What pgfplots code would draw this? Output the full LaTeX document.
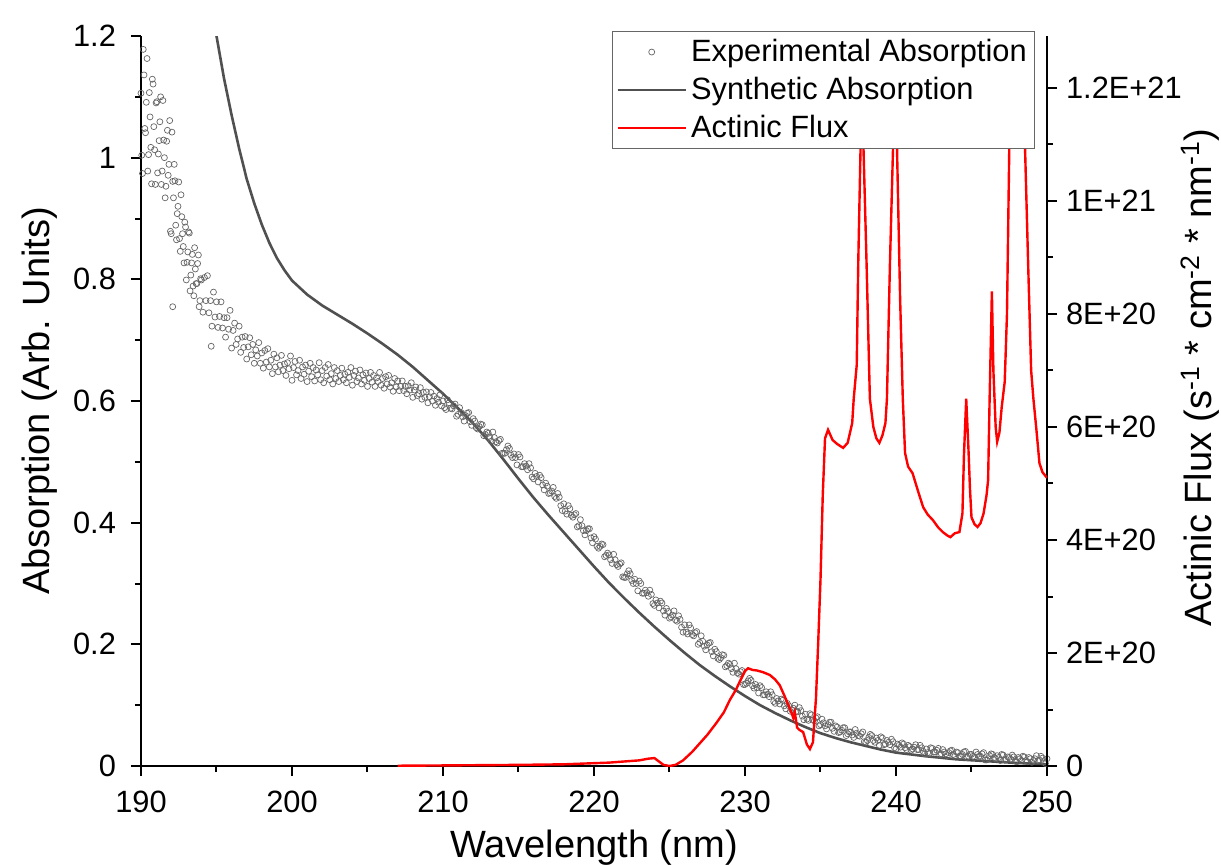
\documentclass[border=0pt]{standalone}
\usepackage{fontspec}
\setmainfont{Liberation Sans}
\usepackage{pgfplots}
\usepackage{pgfplotstable}
\pgfplotsset{compat=1.18}

\pgfplotstableread{
x y
190.0 1.106
190.05 1.004
190.1 0.974
190.15 1.178
190.2 1.136
190.25 1.048
190.3 1.041
190.35 1.091
190.4 1.163
190.45 0.978
190.5 1.005
190.55 1.107
190.6 1.067
190.65 1.017
190.7 0.957
190.75 1.129
190.8 1.121
190.85 1.051
190.9 1.013
190.95 0.956
191.0 1.090
191.05 1.092
191.1 0.975
191.15 1.006
191.2 1.028
191.25 1.059
191.3 1.100
191.35 0.956
191.4 0.978
191.45 1.094
191.5 1.029
191.55 1.000
191.6 0.934
191.65 0.953
191.7 1.027
191.75 1.045
191.8 0.971
191.85 0.989
191.9 1.061
191.95 0.879
192.0 0.875
192.05 1.042
192.1 0.961
192.1 0.755
192.15 0.934
192.2 0.989
192.25 0.962
192.3 0.889
192.35 0.865
192.4 0.908
192.45 0.920
192.5 0.960
192.55 0.867
192.6 0.846
192.65 0.939
192.7 0.903
192.75 0.875
192.8 0.854
192.85 0.827
192.9 0.894
192.95 0.886
193.0 0.799
193.05 0.828
193.1 0.845
193.15 0.878
193.2 0.876
193.25 0.781
193.3 0.807
193.35 0.827
193.4 0.841
193.45 0.789
193.5 0.773
193.55 0.852
193.6 0.817
193.65 0.793
193.7 0.793
193.75 0.826
193.8 0.840
193.85 0.755
193.9 0.765
193.95 0.801
194.0 0.799
194.1 0.746
194.2 0.803
194.3 0.765
194.4 0.806
194.5 0.745
194.6 0.765
194.65 0.690
194.7 0.723
194.8 0.779
194.9 0.738
195.0 0.763
195.1 0.721
195.2 0.739
195.3 0.763
195.4 0.720
195.5 0.737
195.6 0.705
195.7 0.737
195.8 0.718
195.9 0.749
196.0 0.687
196.1 0.716
196.2 0.728
196.3 0.693
196.4 0.702
196.5 0.723
196.6 0.680
196.7 0.705
196.8 0.688
196.9 0.706
197.0 0.669
197.1 0.689
197.2 0.704
197.3 0.676
197.4 0.693
197.5 0.662
197.6 0.684
197.7 0.674
197.8 0.696
197.9 0.662
198.0 0.679
198.1 0.654
198.2 0.683
198.3 0.664
198.4 0.686
198.5 0.656
198.6 0.667
198.7 0.645
198.8 0.677
198.9 0.656
199.0 0.671
199.1 0.648
199.2 0.659
199.3 0.675
199.4 0.650
199.5 0.661
199.6 0.642
199.7 0.663
199.8 0.653
199.9 0.674
200.0 0.634
200.1 0.655
200.2 0.665
200.3 0.643
200.4 0.650
200.5 0.667
200.6 0.637
200.7 0.656
200.8 0.644
200.9 0.659
201.0 0.632
201.1 0.649
201.2 0.662
201.3 0.640
201.4 0.655
201.5 0.633
201.6 0.651
201.7 0.643
201.8 0.663
201.9 0.635
202.0 0.650
202.1 0.630
202.2 0.655
202.3 0.641
202.4 0.660
202.5 0.635
202.6 0.645
202.7 0.628
202.8 0.655
202.9 0.637
203.0 0.650
203.1 0.632
203.2 0.642
203.3 0.654
203.4 0.635
203.5 0.644
203.6 0.630
203.7 0.647
203.8 0.639
203.9 0.655
204.0 0.626
204.1 0.642
204.2 0.649
204.3 0.632
204.4 0.638
204.5 0.651
204.6 0.628
204.7 0.643
204.8 0.634
204.9 0.646
205.0 0.624
205.1 0.637
205.2 0.647
205.3 0.631
205.4 0.642
205.5 0.624
205.6 0.638
205.7 0.632
205.8 0.647
205.9 0.626
206.0 0.637
206.1 0.621
206.2 0.640
206.3 0.628
206.4 0.642
206.5 0.623
206.6 0.630
206.7 0.616
206.8 0.637
206.9 0.623
207.0 0.633
207.1 0.617
207.2 0.624
207.3 0.633
207.4 0.617
207.5 0.624
207.6 0.612
207.7 0.625
207.8 0.618
207.9 0.630
208.0 0.606
208.1 0.618
208.2 0.623
208.3 0.609
208.4 0.612
208.5 0.622
208.6 0.603
208.7 0.614
208.8 0.606
208.9 0.615
209.0 0.597
209.1 0.607
209.2 0.614
209.3 0.600
209.4 0.608
209.5 0.593
209.6 0.604
209.7 0.598
209.8 0.610
209.9 0.592
210.0 0.600
210.1 0.589
210.2 0.586
210.3 0.602
210.4 0.597
210.5 0.588
210.6 0.587
210.7 0.592
210.8 0.595
210.9 0.575
211.0 0.578
211.1 0.589
211.2 0.581
211.3 0.574
211.4 0.567
211.5 0.576
211.6 0.580
211.7 0.581
211.8 0.566
211.9 0.560
212.0 0.571
212.1 0.567
212.2 0.556
212.3 0.554
212.4 0.558
212.5 0.562
212.6 0.561
212.7 0.543
212.8 0.545
212.9 0.549
213.0 0.547
213.1 0.540
213.2 0.534
213.3 0.549
213.4 0.540
213.5 0.533
213.6 0.531
213.7 0.535
213.8 0.537
213.9 0.514
214.0 0.514
214.1 0.514
214.2 0.520
214.3 0.526
214.4 0.522
214.5 0.511
214.6 0.507
214.7 0.513
214.8 0.507
214.9 0.495
215.0 0.512
215.1 0.508
215.2 0.492
215.3 0.492
215.4 0.497
215.5 0.493
215.6 0.487
215.7 0.497
215.8 0.490
215.9 0.475
216.0 0.472
216.1 0.481
216.2 0.476
216.3 0.467
216.4 0.478
216.5 0.474
216.6 0.462
216.7 0.454
216.8 0.465
216.9 0.460
217.0 0.448
217.1 0.449
217.2 0.452
217.3 0.458
217.4 0.443
217.5 0.440
217.6 0.448
217.7 0.442
217.8 0.428
217.9 0.420
218.0 0.431
218.1 0.419
218.2 0.414
218.3 0.428
218.4 0.423
218.5 0.412
218.6 0.409
218.7 0.413
218.8 0.415
218.9 0.393
219.0 0.395
219.1 0.405
219.2 0.395
219.3 0.387
219.4 0.380
219.5 0.387
219.6 0.390
219.7 0.390
219.8 0.375
219.9 0.367
220.0 0.377
220.1 0.373
220.2 0.361
220.3 0.358
220.4 0.361
220.5 0.365
220.6 0.364
220.7 0.344
220.8 0.346
220.9 0.350
221.0 0.347
221.1 0.339
221.2 0.333
221.3 0.348
221.4 0.339
221.5 0.331
221.6 0.328
221.7 0.332
221.8 0.334
221.9 0.311
222.0 0.310
222.1 0.310
222.2 0.316
222.3 0.321
222.4 0.316
222.5 0.305
222.6 0.300
222.7 0.307
222.8 0.300
222.9 0.288
223.0 0.304
223.1 0.300
223.2 0.284
223.3 0.284
223.4 0.289
223.5 0.285
223.6 0.279
223.7 0.289
223.8 0.282
223.9 0.267
224.0 0.264
224.1 0.273
224.2 0.268
224.3 0.260
224.4 0.271
224.5 0.268
224.6 0.255
224.7 0.248
224.8 0.259
224.9 0.254
225.0 0.243
225.1 0.245
225.2 0.248
225.3 0.255
225.4 0.240
225.5 0.238
225.6 0.247
225.7 0.241
225.8 0.228
225.9 0.220
226.0 0.232
226.1 0.220
226.2 0.217
226.3 0.232
226.4 0.227
226.5 0.216
226.6 0.214
226.7 0.219
226.8 0.221
226.9 0.200
227.0 0.203
227.1 0.214
227.2 0.205
227.3 0.197
227.4 0.191
227.5 0.199
227.6 0.202
227.7 0.203
227.8 0.188
227.9 0.181
228.0 0.192
228.1 0.188
228.2 0.177
228.3 0.175
228.4 0.178
228.5 0.183
228.6 0.182
228.7 0.163
228.8 0.165
228.9 0.169
229.0 0.167
229.1 0.160
229.2 0.154
229.3 0.169
229.4 0.160
229.5 0.153
229.6 0.151
229.7 0.155
229.8 0.157
229.9 0.134
230.0 0.134
230.1 0.136
230.2 0.140
230.3 0.144
230.4 0.141
230.5 0.132
230.6 0.128
230.7 0.134
230.8 0.129
230.9 0.120
231.0 0.132
231.1 0.129
231.2 0.117
231.3 0.117
231.4 0.122
231.5 0.118
231.6 0.114
231.7 0.122
231.8 0.117
231.9 0.106
232.0 0.103
232.1 0.111
232.2 0.107
232.3 0.102
232.4 0.110
232.5 0.108
232.6 0.099
232.7 0.094
232.8 0.103
232.9 0.099
233.0 0.090
233.1 0.092
233.2 0.095
233.3 0.100
233.4 0.090
233.5 0.089
233.6 0.096
233.7 0.091
233.8 0.082
233.9 0.076
234.0 0.085
234.1 0.077
234.2 0.075
234.3 0.086
234.4 0.084
234.5 0.076
234.6 0.074
234.7 0.079
234.8 0.081
234.9 0.066
235.0 0.068
235.1 0.077
235.2 0.071
235.3 0.066
235.4 0.061
235.5 0.068
235.6 0.072
235.7 0.072
235.8 0.062
235.9 0.057
236.0 0.066
236.1 0.064
236.2 0.055
236.3 0.056
236.4 0.059
236.5 0.063
236.6 0.063
236.7 0.050
236.8 0.053
236.9 0.056
237.0 0.056
237.1 0.051
237.2 0.047
237.3 0.060
237.4 0.054
237.5 0.050
237.6 0.049
237.7 0.053
237.8 0.056
237.9 0.040
238.0 0.039
238.1 0.042
238.2 0.047
238.3 0.052
238.4 0.050
238.5 0.042
238.6 0.039
238.7 0.046
238.8 0.042
238.9 0.034
239.0 0.048
239.1 0.046
239.2 0.035
239.3 0.036
239.4 0.042
239.5 0.039
239.6 0.035
239.7 0.044
239.8 0.040
239.9 0.030
240.0 0.028
240.1 0.036
240.2 0.034
240.3 0.031
240.4 0.038
240.5 0.036
240.6 0.030
240.7 0.027
240.8 0.034
240.9 0.032
241.0 0.026
241.1 0.028
241.2 0.031
241.3 0.035
241.4 0.027
241.5 0.027
241.6 0.034
241.7 0.030
241.8 0.024
241.9 0.020
242.0 0.028
242.1 0.022
242.2 0.020
242.3 0.030
242.4 0.029
242.5 0.023
242.6 0.023
242.7 0.026
242.8 0.029
242.9 0.018
243.0 0.020
243.1 0.027
243.2 0.023
243.3 0.020
243.4 0.017
243.5 0.022
243.6 0.025
243.7 0.026
243.8 0.019
243.9 0.016
244.0 0.023
244.1 0.022
244.2 0.016
244.3 0.016
244.4 0.019
244.5 0.023
244.6 0.024
244.7 0.014
244.8 0.016
244.9 0.019
245.0 0.019
245.1 0.016
245.2 0.014
245.3 0.023
245.4 0.019
245.5 0.016
245.6 0.016
245.7 0.020
245.8 0.022
245.9 0.010
246.0 0.010
246.1 0.012
246.2 0.017
246.3 0.020
246.4 0.019
246.5 0.014
246.6 0.012
246.7 0.017
246.8 0.014
246.9 0.009
247.0 0.019
247.1 0.018
247.2 0.010
247.3 0.011
247.4 0.015
247.5 0.014
247.6 0.011
247.7 0.018
247.8 0.015
247.9 0.008
248.0 0.007
248.1 0.014
248.2 0.012
248.3 0.009
248.4 0.016
248.5 0.015
248.6 0.009
248.7 0.007
248.8 0.014
248.9 0.012
249.0 0.006
249.1 0.009
249.2 0.012
249.3 0.017
249.4 0.009
249.5 0.010
249.6 0.016
249.7 0.013
249.8 0.007
249.9 0.004
250.0 0.012
}\expdata

\pgfplotstableread{
x y
195.0 1.200
195.5 1.130
196.0 1.070
196.5 1.015
197.0 0.965
197.5 0.925
198.0 0.890
198.5 0.860
199.0 0.835
199.5 0.815
200.0 0.798
201.0 0.775
202.0 0.757
203.0 0.742
204.0 0.727
205.0 0.711
206.0 0.694
207.0 0.676
208.0 0.656
209.0 0.634
210.0 0.612
211.0 0.588
212.0 0.563
213.0 0.535
214.0 0.504
215.0 0.472
216.0 0.441
217.0 0.412
218.0 0.384
219.0 0.356
220.0 0.328
221.0 0.301
222.0 0.276
223.0 0.252
224.0 0.229
225.0 0.207
226.0 0.186
227.0 0.166
228.0 0.148
229.0 0.131
230.0 0.115
231.0 0.100
232.0 0.087
233.0 0.075
234.0 0.064
235.0 0.054
236.0 0.046
237.0 0.039
238.0 0.033
239.0 0.027
240.0 0.022
241.0 0.019
242.0 0.016
244.0 0.011
246.0 0.008
248.0 0.005
250.0 0.003
}\syndata

\pgfplotstableread{
x y
207.0 0.005
210.0 0.01
215.0 0.02
218.0 0.03
220.0 0.05
221.0 0.06
222.0 0.08
223.0 0.10
223.6 0.13
224.0 0.14
224.3 0.08
224.6 0.02
225.0 0.0
225.4 0.02
225.9 0.10
226.5 0.25
227.0 0.40
227.5 0.55
228.1 0.76
228.6 0.95
229.0 1.17
229.4 1.35
229.7 1.52
230.0 1.68
230.2 1.73
230.5 1.70
230.8 1.69
231.2 1.66
231.65 1.61
232.0 1.53
232.3 1.43
232.6 1.25
233.0 1.00
233.2 0.85
233.3 0.95
233.45 0.68
233.6 0.64
233.85 0.60
234.1 0.38
234.3 0.30
234.5 0.42
234.7 1.20
234.85 2.20
235.0 3.30
235.15 4.80
235.3 5.80
235.5 5.95
235.8 5.77
236.1 5.70
236.5 5.63
236.8 5.72
237.1 6.07
237.2 6.50
237.4 7.10
237.5 8.90
237.65 10.9
237.75 16.0
237.85 10.9
238.05 8.90
238.27 6.50
238.5 6.00
238.7 5.80
238.9 5.72
239.1 5.85
239.3 6.07
239.4 6.50
239.6 8.90
239.8 10.9
239.95 16.0
240.07 10.9
240.27 8.30
240.45 6.50
240.6 5.54
240.8 5.30
241.1 5.18
241.5 4.83
241.8 4.58
242.1 4.45
242.45 4.35
242.8 4.22
243.1 4.14
243.4 4.08
243.6 4.05
243.9 4.12
244.2 4.14
244.4 4.47
244.5 5.50
244.65 6.50
244.8 5.60
244.9 4.90
245.0 4.40
245.2 4.28
245.4 4.23
245.6 4.30
245.8 4.47
246.0 4.80
246.1 5.06
246.2 6.50
246.35 8.40
246.45 7.00
246.6 6.00
246.7 5.74
246.85 5.90
247.0 6.35
247.2 6.80
247.35 8.00
247.5 10.9
247.7 13.0
248.0 14.5
248.3 13.0
248.55 10.9
248.75 8.90
248.95 7.00
249.1 6.50
249.3 5.95
249.5 5.36
249.7 5.20
250.0 5.10
}\fluxdata

\definecolor{syngray}{HTML}{505050}

\pgfplotsset{
  mystyle/.style={
    scale only axis,
    width=453pt, height=365pt,
    xmin=190, xmax=250,
    tick align=outside,
    axis line style={line width=1.2pt, black},
    major tick length=5pt,
    minor tick length=3pt,
    every tick/.style={black, line width=1pt},
    tick label style={font=\fontsize{15.4}{18}\selectfont},
    label style={font=\fontsize{19}{23}\selectfont},
    /pgf/number format/assume math mode=true,
  }
}

\begin{document}
\begin{tikzpicture}
\begin{axis}[
  mystyle,
  name=main,
  axis x line*=bottom,
  axis y line*=left,
  ymin=0, ymax=1.2,
  xtick={190,200,...,250},
  minor x tick num=1,
  ytick={0,0.2,0.4,0.6,0.8,1,1.2},
  minor y tick num=1,
  xticklabel style={yshift=-4pt},
  yticklabel style={xshift=-4pt},
  xlabel={Wavelength (nm)},
  ylabel={Absorption (Arb. Units)},
  xlabel style={at={([yshift=-41pt]axis description cs:0.5,0)}, anchor=center},
  ylabel style={at={([xshift=-50.5pt]axis description cs:0,0.5)}, anchor=center},
]
\addplot[only marks, mark=o, mark size=1.5pt, draw=black!60, mark options={line width=0.35pt}] table[x=x,y=y] {\expdata};
\addplot[syngray, line width=1.3pt] table[x=x,y=y] {\syndata};
\end{axis}
\begin{axis}[
  mystyle,
  axis x line=none,
  axis y line*=right,
  ymin=0, ymax=12.92,
  ytick={0,2,4,6,8,10,12},
  yticklabels={0,2E+20,4E+20,6E+20,8E+20,1E+21,1.2E+21},
  minor y tick num=1,
  yticklabel style={xshift=1pt},
  ylabel={Actinic Flux (s\textsuperscript{-1} * cm\textsuperscript{-2} * nm\textsuperscript{-1})},
  ylabel style={at={([xshift=76.5pt]axis description cs:1,0.532)}, anchor=center},
  legend style={at={(rel axis cs:0.987,1.007)}, anchor=north east,
    draw=black!60, line width=0.5pt, fill=white,
    font=\fontsize{15.4}{18}\selectfont,
    inner xsep=2pt, inner ysep=2pt, row sep=2.4pt,
    nodes={inner sep=2pt}},
  legend cell align=left,
  legend image code/.code={\draw[mark repeat=2,mark phase=2,#1] plot coordinates {(0cm,0cm) (0.6cm,0cm) (1.2cm,0cm)};},
]
\addlegendimage{only marks, mark=o, mark size=1.5pt, draw=black!60, mark options={line width=0.35pt}}
\addlegendentry{Experimental Absorption}
\addlegendimage{syngray, line width=1.3pt}
\addlegendentry{Synthetic Absorption}
\addplot[red, line width=1.2pt] table[x=x,y=y] {\fluxdata};
\addlegendentry{Actinic Flux}
\end{axis}
\pgfresetboundingbox
\useasboundingbox ([shift={(-70.5pt,-49pt)}]main.south west) rectangle ([shift={(540pt,383pt)}]main.south west);
\end{tikzpicture}
\end{document}
